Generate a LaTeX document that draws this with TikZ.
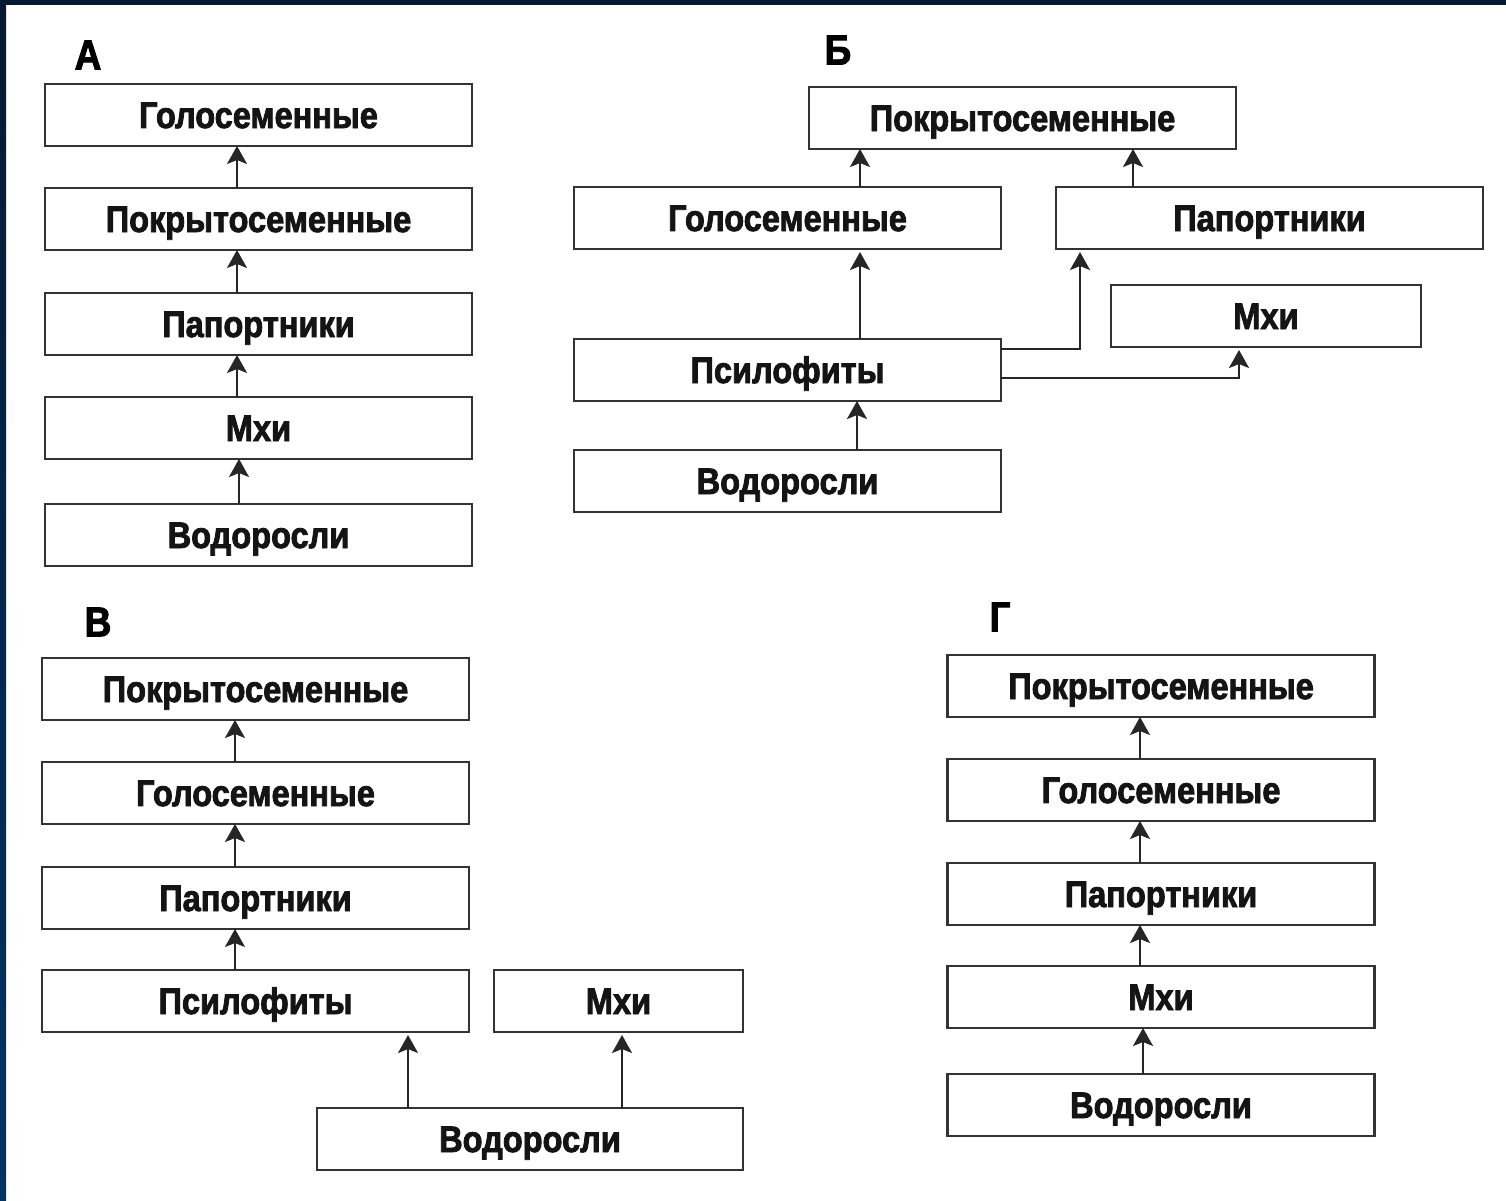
\documentclass[tikz,border=0pt]{standalone}
\usepackage{fontspec}
\setmainfont{Liberation Sans}
\newfontfamily\heavy{Liberation Sans}[FakeBold=2.2,FakeStretch=0.88]
\usetikzlibrary{arrows.meta,calc}
\definecolor{navytop}{RGB}{5,25,50}
\definecolor{navybot}{RGB}{0,52,100}
\tikzset{
  box/.style={draw=black!80, line width=2.2pt, fill=white, inner sep=0pt, outer sep=0pt,
    minimum height=62pt, minimum width=427pt, font=\fontsize{37}{40}\heavy\bfseries,
    text=black!92, text height=26pt, text depth=0pt},
  arr/.style={draw=black!85, line width=2.2pt, -{Stealth[length=18pt,width=20pt,inset=4pt]}},
  lbl/.style={font=\fontsize{42}{46}\heavy\bfseries, inner sep=0pt}
}
\begin{document}
\begin{tikzpicture}[x=1pt,y=-1pt]
\useasboundingbox (0,0) rectangle (1506,1200);
\fill[white] (0,0) rectangle (1506,1200);
\fill[top color=navytop, bottom color=navybot] (0,0) rectangle (6,1200);
\fill[navytop] (0,0) rectangle (1506,5);

% Panel A
\node[lbl] (la) at (88,55) {А};
\node[box] (a1) at (258.5,115) {Голосеменные};
\node[box] (a2) at (258.5,219) {Покрытосеменные};
\node[box] (a3) at (258.5,324) {Папортники};
\node[box] (a4) at (258.5,428) {Мхи};
\node[box] (a5) at (258.5,535) {Водоросли};
\draw[arr] ([xshift=-21.5pt]a2.north) -- ([xshift=-21.5pt]a1.south);
\draw[arr] ([xshift=-21.5pt]a3.north) -- ([xshift=-21.5pt]a2.south);
\draw[arr] ([xshift=-21.5pt]a4.north) -- ([xshift=-21.5pt]a3.south);
\draw[arr] ([xshift=-19.5pt]a5.north) -- ([xshift=-19.5pt]a4.south);

% Panel B
\node[lbl] (lb) at (838,50) {Б};
\node[box] (b1) at (1022.5,118) {Покрытосеменные};
\node[box] (b2) at (787.5,218) {Голосеменные};
\node[box] (b3) at (1269.5,218) {Папортники};
\node[box, minimum width=310pt] (b4) at (1266,316) {Мхи};
\node[box] (b5) at (787.5,370) {Псилофиты};
\node[box] (b6) at (787.5,481) {Водоросли};
\draw[arr] ([xshift=72.5pt]b2.north) -- ([xshift=72.5pt]b2.north |- b1.south);
\coordinate (bc1) at ([xshift=-136.5pt]b3.north);
\draw[arr] (bc1) -- (bc1 |- b1.south);
\draw[arr, shorten >=3pt] ([xshift=72.5pt]b5.north) -- ([xshift=72.5pt]b2.south);
\coordinate (bc2) at ([xshift=-189.5pt]b3.south);
\draw[arr, shorten >=3pt] ([yshift=21pt]b5.east) -| (bc2);
\coordinate (bc3) at ([xshift=-27pt]b4.south);
\draw[arr, shorten >=3pt] ([yshift=-8pt]b5.east) -| (bc3);
\draw[arr] ([xshift=69.5pt]b6.north) -- ([xshift=69.5pt]b5.south);

% Panel V
\node[lbl] (lv) at (98,622) {В};
\node[box] (v1) at (255.5,689) {Покрытосеменные};
\node[box] (v2) at (255.5,793) {Голосеменные};
\node[box] (v3) at (255.5,898) {Папортники};
\node[box] (v4) at (255.5,1001) {Псилофиты};
\node[box, minimum width=249pt] (v5) at (618.5,1001) {Мхи};
\node[box, minimum width=426pt] (v6) at (530,1139) {Водоросли};
\draw[arr] ([xshift=-20.5pt]v2.north) -- ([xshift=-20.5pt]v1.south);
\draw[arr] ([xshift=-20.5pt]v3.north) -- ([xshift=-20.5pt]v2.south);
\draw[arr] ([xshift=-20.5pt]v4.north) -- ([xshift=-20.5pt]v3.south);
\coordinate (vc1) at ([xshift=-122pt]v6.north);
\draw[arr, shorten >=3pt] (vc1) -- (vc1 |- v4.south);
\coordinate (vc2) at ([xshift=92pt]v6.north);
\draw[arr, shorten >=3pt] (vc2) -- (vc2 |- v5.south);

% Panel G
\node[lbl] (lg) at (1000,617) {Г};
\node[box] (g1) at (1161,686) {Покрытосеменные};
\node[box] (g2) at (1161,790) {Голосеменные};
\node[box] (g3) at (1161,894) {Папортники};
\node[box] (g4) at (1161,997) {Мхи};
\node[box] (g5) at (1161,1105) {Водоросли};
\draw[arr] ([xshift=-21pt]g2.north) -- ([xshift=-21pt]g1.south);
\draw[arr] ([xshift=-21pt]g3.north) -- ([xshift=-21pt]g2.south);
\draw[arr] ([xshift=-21pt]g4.north) -- ([xshift=-21pt]g3.south);
\draw[arr] ([xshift=-18pt]g5.north) -- ([xshift=-18pt]g4.south);
\end{tikzpicture}
\end{document}
